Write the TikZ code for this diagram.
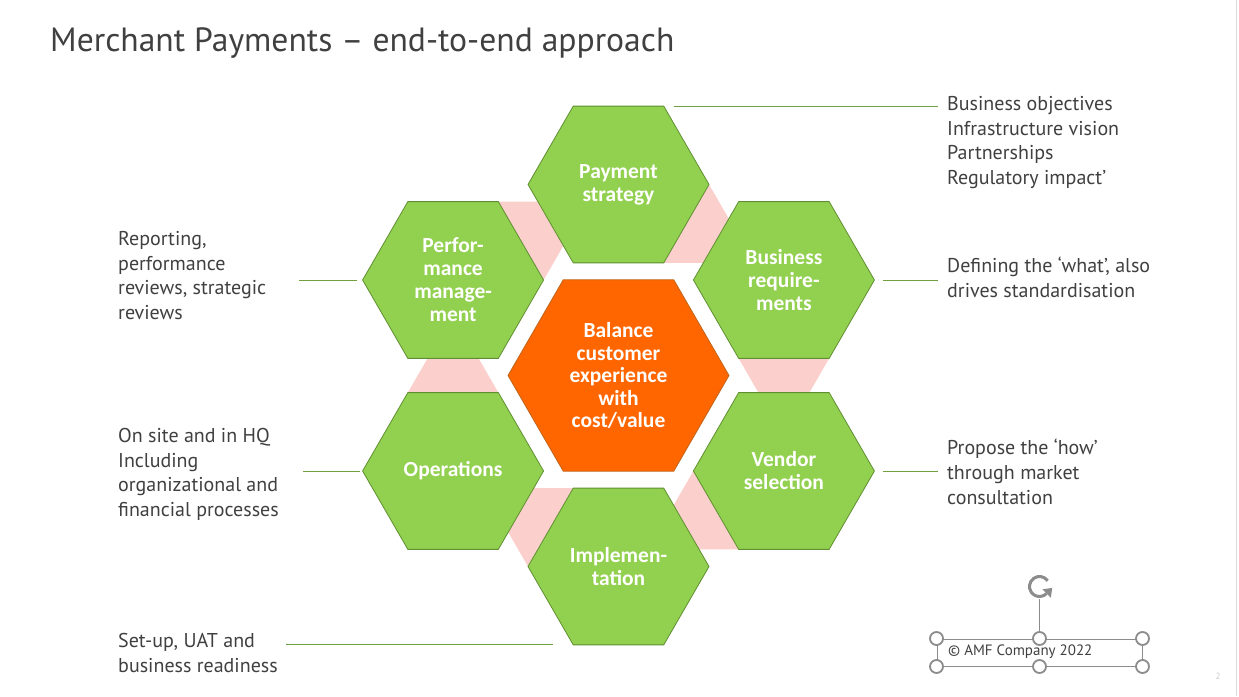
\documentclass[tikz,border=0pt]{standalone}
\usepackage{fontspec}
\setmainfont{PT Sans}
\newfontfamily\hexfont{Carlito}
\usetikzlibrary{positioning, shapes.geometric, arrows.meta, backgrounds, calc}

\definecolor{hexgreen}{HTML}{92D050}
\definecolor{hexline}{HTML}{5F8F30}
\definecolor{coreorange}{HTML}{FF6600}
\definecolor{coreline}{HTML}{C0651A}
\definecolor{flowpink}{HTML}{FBCFCB}
\definecolor{textgray}{HTML}{404040}
\definecolor{leadgreen}{HTML}{70A040}
\definecolor{handlegray}{HTML}{8C8C8C}

% pink strip from one hexagon towards the next one (clockwise)
\newcommand{\flowstrip}[2]{%
  \fill[flowpink] ([shift={(#2+30:90.5)}]#1.center) -- ++(#2-30:39.6)
    -- ++(#2-90:50.9) -- ++(#2+210:39.6) -- cycle;}

\begin{document}
\begin{tikzpicture}[x=1pt, y=1pt,
        hexbox/.style={regular polygon, regular polygon sides=6, minimum size=181pt, inner sep=0pt, outer sep=0pt, draw=hexline, line width=0.8pt, fill=hexgreen, text=white, align=center, font=\hexfont\bfseries\fontsize{21.5}{23}\selectfont},
        corebox/.style={hexbox, minimum size=221pt, fill=coreorange, draw=coreline, font=\hexfont\bfseries\fontsize{21.5}{22.5}\selectfont},
        note/.style={anchor=north west, inner sep=0pt, align=left, text=textgray, font=\fontsize{20}{24.7}\selectfont},
        leader/.style={draw=leadgreen, line width=0.8pt},
        handle/.style={circle, draw=handlegray, fill=white, line width=1.8pt, minimum size=13pt, inner sep=0pt}
        ]
        \useasboundingbox (0,0) rectangle (1239,696);

        \node[anchor=base west, inner sep=0pt, text=textgray, font=\fontsize{33.6}{40}\selectfont] (title) at (50,644) {Merchant Payments -- end-to-end approach};

        \node[corebox] (core) at (618.5,320.5) {Balance\\customer\\experience\\with\\cost/value};
        \node[hexbox] (pay) at ([shift={(90:191)}]core.center) {Payment\\strategy};
        \node[hexbox] (busreq) at ([shift={(30:191)}]core.center) {Business\\require-\\ments};
        \node[hexbox] (vend) at ([shift={(-30:191)}]core.center) {Vendor\\selection};
        \node[hexbox] (impl) at ([shift={(-90:191)}]core.center) {Implemen-\\tation};
        \node[hexbox] (ops) at ([shift={(210:191)}]core.center) {Operations};
        \node[hexbox] (perf) at ([shift={(150:191)}]core.center) {Perfor-\\mance\\manage-\\ment};

        \begin{scope}[on background layer]
            \fill[white] (0,0) rectangle (1239,696);
            \foreach \src/\ang in {pay/-30, busreq/-90, vend/-150, impl/150, ops/90, perf/30}
                \flowstrip{\src}{\ang};
        \end{scope}

        \node[note] (paytext) at (947,600) {Business objectives\\Infrastructure vision\\Partnerships\\Regulatory impact’};
        \node[note] (bustext) at (947,439) {Defining the ‘what’, also\\drives standardisation};
        \node[note] (vendtext) at (947,257) {Propose the ‘how’\\through market\\consultation};
        \node[note] (perftext) at (118,465) {Reporting,\\performance\\reviews, strategic\\reviews};
        \node[note] (opstext) at (118,268) {On site and in HQ\\Including\\organizational and\\financial processes};
        \node[note] (impltext) at (118,63) {Set-up, UAT and\\business readiness};

        \draw[leader, shorten <=55pt, shorten >=9pt] (pay.north) -- (pay.north -| paytext.west);
        \draw[leader, shorten <=8.5pt, shorten >=9pt] (busreq.east) -- (busreq.east -| bustext.west);
        \draw[leader, shorten <=8.5pt, shorten >=9pt] (vend.east) -- (vend.east -| vendtext.west);
        \draw[leader, shorten <=5.5pt, shorten >=33pt] (perf.west) -- (perf.west -| perftext.east);
        \draw[leader, shorten <=3pt, shorten >=24pt] (ops.west) -- (ops.west -| opstext.east);
        \draw[leader, shorten <=66pt, shorten >=8pt] (impl.south) -- (impl.south -| impltext.east);

        % footer text box with its handles
        \node[draw=handlegray, line width=1pt, minimum width=205pt, minimum height=27pt, inner sep=0pt] (frame) at (1039.5,43.5) {};
        \node[anchor=west, inner sep=0pt, text=textgray, font=\fontsize{15}{18}\selectfont] (copy) at (948,44) {© AMF Company 2022};
        \coordinate (rot) at ([yshift=52pt]frame.north);
        \draw[handlegray, line width=1pt] (frame.north) -- ([yshift=-13pt]rot);
        \draw[handlegray, line width=3pt] ($(rot)+(35:10)$) arc[start angle=35, end angle=315, radius=10];
        \fill[handlegray] ($(rot)+(315:16)$) -- ($(rot)+(315:4)$) -- ($(rot)+(315:10)+(45:8)$) -- cycle;
        \foreach \a in {north west, north, north east, south west, south, south east}
            \node[handle] at (frame.\a) {};

        \node[inner sep=0pt, text=black!20, font=\fontsize{9}{10}\selectfont] (pageno) at (1218,20) {2};
        \draw[black!15, line width=1pt] (1236,0) -- (1236,696);
    \end{tikzpicture}
\end{document}
